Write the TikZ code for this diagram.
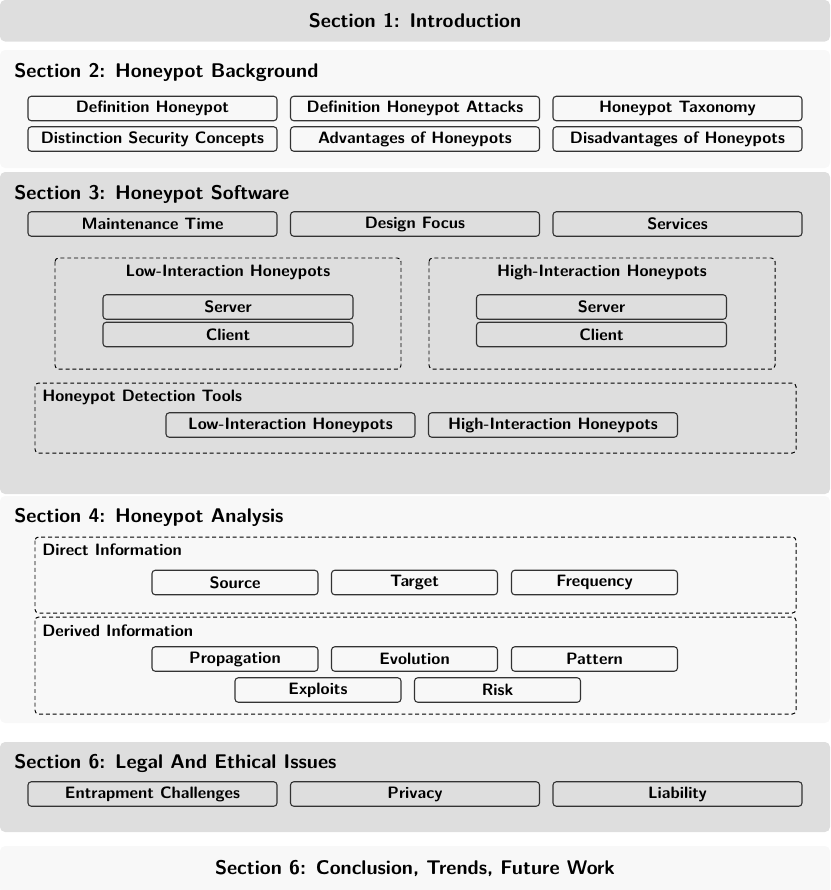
\documentclass[tikz,border=0pt]{standalone}
\usetikzlibrary{positioning}
\definecolor{secdark}{HTML}{DEDEDE}
\definecolor{seclight}{HTML}{F8F8F8}
\definecolor{boxline}{HTML}{333333}
\newcommand{\boxfont}{\fontsize{9.15}{11}\selectfont\sffamily\bfseries}
\newcommand{\titlefont}{\fontsize{11}{13}\selectfont\sffamily\bfseries}
\tikzset{
  secdarkbg/.style={fill=secdark, draw=none, rounded corners=2.8pt},
  seclightbg/.style={fill=seclight, draw=none, rounded corners=2.8pt},
  sectitle/.style={font=\titlefont, inner sep=0pt, text=black},
  itembox/.style={draw=boxline, line width=0.6pt, rounded corners=1.8pt, inner sep=0pt,
    minimum width=#1*0.5556pt, minimum height=13.6pt, font=\boxfont, text=black},
  itembox/.default=249,
  dashbox/.style={draw=black, line width=0.55pt, dash pattern=on 2.2pt off 1.6pt, rounded corners=2pt},
  grouptitle/.style={font=\boxfont, inner sep=0pt, text=black},
}
\begin{document}
\begin{tikzpicture}[x=0.5556pt,y=-0.5556pt]
\useasboundingbox (0,0) rectangle (830,890);
% section backgrounds
\path[secdarkbg] (0,0) rectangle (830,41.5);
\path[seclightbg] (0,50) rectangle (830,168);
\path[secdarkbg] (0,172) rectangle (830,494);
\path[seclightbg] (0,496) rectangle (830,723);
\path[secdarkbg] (0,742) rectangle (830,832);
\path[seclightbg] (0,846) rectangle (830,894);

% Section 1
\node[sectitle] (s1) at (415,20.5) {Section 1: Introduction};

% Section 2
\node[sectitle, anchor=west] (s2) at (14,72) {Section 2: Honeypot Background};
\node[itembox] (dh)  at (152.5,108.5) {Definition Honeypot};
\node[itembox] (dha) at (415,108.5) {Definition Honeypot Attacks};
\node[itembox] (tax) at (677.5,108.5) {Honeypot Taxonomy};
\node[itembox] (dsc) at (152.5,139) {Distinction Security Concepts};
\node[itembox] (adv) at (415,139) {Advantages of Honeypots};
\node[itembox] (dis) at (677.5,139) {Disadvantages of Honeypots};

% Section 3
\node[sectitle, anchor=west] (s3) at (14,194) {Section 3: Honeypot Software};
\node[itembox] (mt) at (152.5,224) {Maintenance Time};
\node[itembox] (df) at (415,224) {Design Focus};
\node[itembox] (sv) at (677.5,224) {Services};

\draw[dashbox] (55,258) rectangle (401,369);
\node[grouptitle] (lowt) at (228,272.7) {Low-Interaction Honeypots};
\node[itembox=250] (lows) at (228,307) {Server};
\node[itembox=250] (lowc) at (228,334.5) {Client};

\draw[dashbox] (429,258) rectangle (775,369);
\node[grouptitle] (hight) at (602,272.7) {High-Interaction Honeypots};
\node[itembox=250] (highs) at (601.5,307) {Server};
\node[itembox=250] (highc) at (601.5,334.5) {Client};

\draw[dashbox] (35,383) rectangle (796,453);
\node[grouptitle, anchor=west] (dett) at (42,397) {Honeypot Detection Tools};
\node[itembox] (detl) at (290.5,425) {Low-Interaction Honeypots};
\node[itembox] (deth) at (553,425) {High-Interaction Honeypots};

% Section 4
\node[sectitle, anchor=west] (s4) at (14,517) {Section 4: Honeypot Analysis};
\draw[dashbox] (35,537) rectangle (796,613);
\node[grouptitle, anchor=west] (dirt) at (42,550) {Direct Information};
\node[itembox=166] (src) at (235,582.5) {Source};
\node[itembox=166] (tgt) at (414.5,582.5) {Target};
\node[itembox=166] (frq) at (594.5,582.5) {Frequency};

\draw[dashbox] (35,617) rectangle (796,714);
\node[grouptitle, anchor=west] (dert) at (42,631) {Derived Information};
\node[itembox=166] (prop) at (235,659) {Propagation};
\node[itembox=166] (evo)  at (414.5,659) {Evolution};
\node[itembox=166] (pat)  at (594.5,659) {Pattern};
\node[itembox=166] (expl) at (318,690) {Exploits};
\node[itembox=166] (risk) at (497.5,690) {Risk};

% Section 6 legal
\node[sectitle, anchor=west] (s5) at (14,763) {Section 6: Legal And Ethical Issues};
\node[itembox] (ent) at (152.5,794) {Entrapment Challenges};
\node[itembox] (priv) at (415,794) {Privacy};
\node[itembox] (liab) at (677.5,794) {Liability};

% Section 6 conclusion
\node[sectitle] (s6) at (415,868) {Section 6: Conclusion, Trends, Future Work};
\end{tikzpicture}
\end{document}
